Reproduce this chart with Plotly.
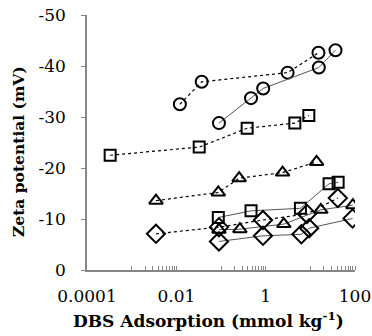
import plotly.graph_objects as go

# --- data (x: DBS adsorption, mmol/kg; y: zeta potential, mV) ---
circ_dash_x = [0.012, 0.037, 3.1, 15.2]
circ_dash_y = [-32.5, -36.9, -38.7, -42.6]
circ_solid_x = [0.09, 0.47, 0.88, 15.5, 36.6]
circ_solid_y = [-28.8, -33.7, -35.6, -39.7, -43.1]

sq_dash_x = [0.00033, 0.0325, 0.385, 4.5, 9.25]
sq_dash_y = [-22.5, -24.1, -27.8, -28.8, -30.3]
sq_solid_x = [0.087, 0.47, 6.0, 26.3, 41.9]
sq_solid_y = [-10.3, -11.6, -12.1, -16.9, -17.2]

tri_dash_x = [0.0035, 0.087, 0.255, 2.39, 13.8]
tri_dash_y = [-13.6, -15.2, -18.0, -19.1, -21.2]
tri_solid_x = [0.09, 0.265, 2.55, 17.2, 89.6]
tri_solid_y = [-7.9, -8.0, -9.0, -11.8, -12.7]

dia_dash_x = [0.0035, 0.09, 0.87, 8.4, 41.2]
dia_dash_y = [-7.1, -8.4, -9.8, -11.0, -14.1]
dia_solid_x = [0.09, 0.87, 6.3, 9.4, 88.0]
dia_solid_y = [-5.6, -6.7, -7.0, -8.2, -10.1]

y_tickvals = [0, -10, -20, -30, -40, -50]
y_ticktext = ["0", "-10", "-20", "-30", "-40", "-50"]
x_tickvals = [0.0001, 0.01, 1, 100]
x_ticktext = ["0.0001", "0.01", "1", "100"]

series = [
    (circ_dash_x, circ_dash_y, "circle-open", "dash"),
    (circ_solid_x, circ_solid_y, "circle-open", "solid"),
    (sq_dash_x, sq_dash_y, "square-open", "dash"),
    (sq_solid_x, sq_solid_y, "square-open", "solid"),
    (tri_dash_x, tri_dash_y, "triangle-up-open", "dash"),
    (tri_solid_x, tri_solid_y, "triangle-up-open", "solid"),
    (dia_dash_x, dia_dash_y, "diamond-open", "dash"),
    (dia_solid_x, dia_solid_y, "diamond-open", "solid"),
]

fig = go.Figure()
for xs, ys, sym, style in series:
    if style == "dash":
        line = dict(color="black", width=1.2, dash="3px,3px")
    else:
        line = dict(color="#555555", width=1)
    size = {"circle-open": 12, "square-open": 11,
            "triangle-up-open": 12, "diamond-open": 14}[sym]
    fig.add_trace(go.Scatter(
        x=xs, y=ys, mode="lines+markers", line=line,
        marker=dict(symbol=sym, size=size, color="black",
                    line=dict(color="black", width=2)),
        showlegend=False))

minor_vals = []
for e in (-3, -1, 1):
    for k in range(1, 11):
        minor_vals.append(k * 10 ** e)

font_family = "DejaVu Serif"
fig.update_layout(
    width=372, height=336,
    margin=dict(l=87, r=17, t=15, b=66),
    paper_bgcolor="white", plot_bgcolor="white",
    font=dict(family=font_family, size=17, color="black"),
    annotations=[
        dict(text="<b>DBS Adsorption (mmol kg<sup>-1</sup>)</b>",
             xref="paper", yref="paper", x=(208 - 87) / 268, y=-(320 - 270) / 255,
             xanchor="center", yanchor="middle", showarrow=False,
             font=dict(family=font_family, size=17)),
        dict(text="<b>Zeta potential (mV)</b>", textangle=-90,
             xref="paper", yref="paper", x=-(87 - 18) / 268, y=(270 - 152) / 255,
             xanchor="center", yanchor="middle", showarrow=False,
             font=dict(family=font_family, size=15.5)),
    ],
)
fig.update_xaxes(
    type="log", range=[-4, 2], automargin=False,
    tickmode="array", tickvals=x_tickvals, ticktext=x_ticktext,
    ticks="", ticklabelstandoff=10,
    showgrid=False, zeroline=False,
    showline=True, linecolor="#868686", linewidth=1.5,
    minor=dict(tickmode="array", tickvals=minor_vals, ticks="inside",
               ticklen=4, tickcolor="#868686", showgrid=False),
)
fig.update_yaxes(
    range=[0, -50], automargin=False,
    tickmode="array", tickvals=y_tickvals, ticktext=y_ticktext,
    ticks="outside", ticklen=4, tickcolor="#868686",
    ticklabelstandoff=12,
    showgrid=False, zeroline=False,
    showline=True, linecolor="#868686", linewidth=1.5,
)

fig.write_html("out.html")
